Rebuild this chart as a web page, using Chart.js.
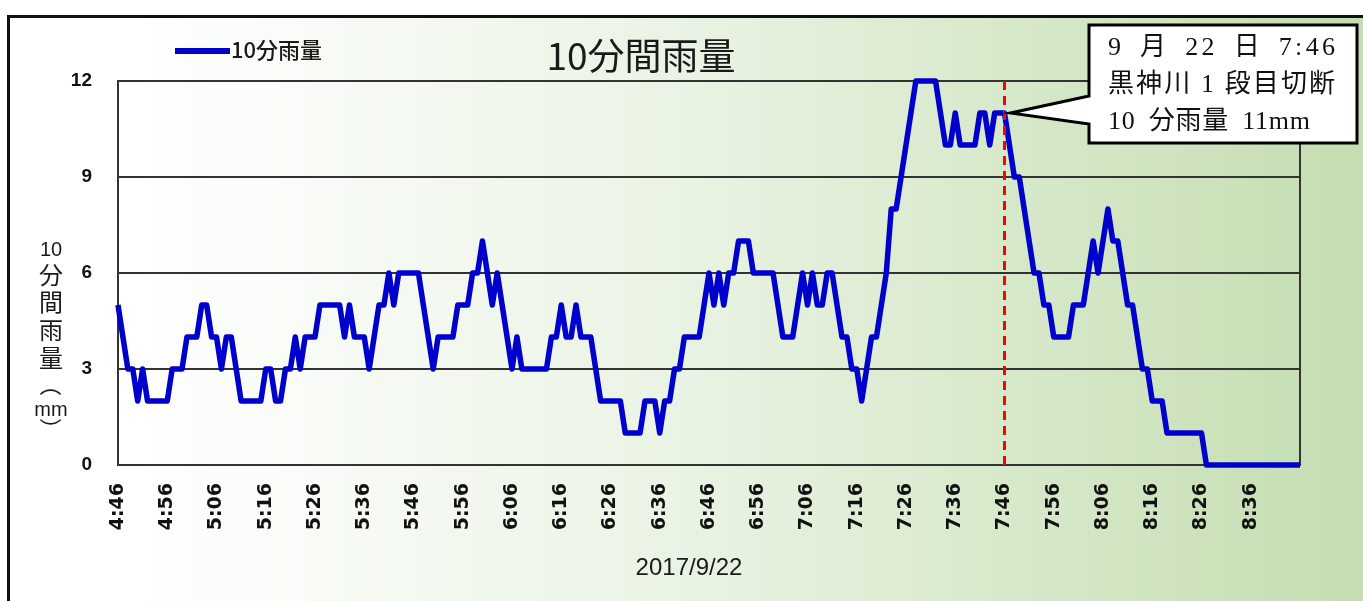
<!DOCTYPE html>
<html>
<head>
<meta charset="utf-8">
<script src="https://cdn.jsdelivr.net/npm/chart.js@4.4.0/dist/chart.umd.min.js"></script>
<style>
html,body{margin:0;padding:0;background:#fff;}
#wrap{width:1363px;height:601px;position:relative;}
canvas{display:block;}
</style>
</head>
<body>
<div id="wrap"><canvas id="c" width="1363" height="601"></canvas></div>
<script>
// ---- data ----
const categories = [
"4:46","4:47","4:48","4:49","4:50","4:51","4:52","4:53","4:54","4:55","4:56","4:57","4:58","4:59",
"5:00","5:01","5:02","5:03","5:04","5:05","5:06","5:07","5:08","5:09","5:10","5:11","5:12","5:13","5:14","5:15","5:16","5:17","5:18","5:19",
"5:20","5:21","5:22","5:23","5:24","5:25","5:26","5:27","5:28","5:29","5:30","5:31","5:32","5:33","5:34","5:35","5:36","5:37","5:38","5:39",
"5:40","5:41","5:42","5:43","5:44","5:45","5:46","5:47","5:48","5:49","5:50","5:51","5:52","5:53","5:54","5:55","5:56","5:57","5:58","5:59",
"6:00","6:01","6:02","6:03","6:04","6:05","6:06","6:07","6:08","6:09","6:10","6:11","6:12","6:13","6:14","6:15","6:16","6:17","6:18","6:19",
"6:20","6:21","6:22","6:23","6:24","6:25","6:26","6:27","6:28","6:29","6:30","6:31","6:32","6:33","6:34","6:35","6:36","6:37","6:38","6:39",
"6:40","6:41","6:42","6:43","6:44","6:45","6:46","6:47","6:48","6:49","6:50","6:51","6:52","6:53","6:54","6:55","6:56","6:57","6:58","6:59",
"7:00","7:01","7:02","7:03","7:04","7:05","7:06","7:07","7:08","7:09","7:10","7:11","7:12","7:13","7:14","7:15","7:16","7:17","7:18","7:19",
"7:20","7:21","7:22","7:23","7:24","7:25","7:26","7:27","7:28","7:29","7:30","7:31","7:32","7:33","7:34","7:35","7:36","7:37","7:38","7:39",
"7:40","7:41","7:42","7:43","7:44","7:45","7:46","7:47","7:48","7:49","7:50","7:51","7:52","7:53","7:54","7:55","7:56","7:57","7:58","7:59",
"8:00","8:01","8:02","8:03","8:04","8:05","8:06","8:07","8:08","8:09","8:10","8:11","8:12","8:13","8:14","8:15","8:16","8:17","8:18","8:19",
"8:20","8:21","8:22","8:23","8:24","8:25","8:26","8:27","8:28","8:29","8:30","8:31","8:32","8:33","8:34","8:35","8:36","8:37","8:38","8:39",
"8:40","8:41","8:42","8:43","8:44","8:45","8:46"
];

const rain10min = [
5,4,3,3,2,3,2,2,2,2,
2,3,3,3,4,4,4,5,5,4,
4,3,4,4,3,2,2,2,2,2,
3,3,2,2,3,3,4,3,4,4,
4,5,5,5,5,5,4,5,4,4,
4,3,4,5,5,6,5,6,6,6,
6,6,5,4,3,4,4,4,4,5,
5,5,6,6,7,6,5,6,5,4,
3,4,3,3,3,3,3,3,4,4,
5,4,4,5,4,4,4,3,2,2,
2,2,2,1,1,1,1,2,2,2,
1,2,2,3,3,4,4,4,4,5,
6,5,6,5,6,6,7,7,7,6,
6,6,6,6,5,4,4,4,5,6,
5,6,5,5,6,6,5,4,4,3,
3,2,3,4,4,5,6,8,8,9,
10,11,12,12,12,12,12,11,10,10,
11,10,10,10,10,11,11,10,11,11,
11,10,9,9,8,7,6,6,5,5,
4,4,4,4,5,5,5,6,7,6,
7,8,7,7,6,5,5,4,3,3,
2,2,2,1,1,1,1,1,1,1,
1,0,0,0,0,0,0,0,0,0,
0,0,0,0,0,0,0,0,0,0,
0
];

const xTickLabels = ["4:46","4:56","5:06","5:16","5:26","5:36","5:46","5:56","6:06","6:16","6:26","6:36","6:46","6:56","7:06","7:16","7:26","7:36","7:46","7:56","8:06","8:16","8:26","8:36"];
const yTicks = [0,3,6,9,12];

const chartTitle = "10分間雨量";
const seriesName = "10分雨量";
const xAxisTitle = "2017/9/22";
const yAxisTitleParts = ["10","分","間","雨","量","（","mm","）"];
const markerLabel = "7:46";
const calloutLines = ["9 月 22 日 7:46", "黒神川 1 段目切断", "10 分雨量 11mm"];

// ---- plugins ----
const narrowFont = "'Liberation Sans Narrow','Liberation Sans',Arial,sans-serif";
const wideFont = "'DejaVu Sans','Liberation Sans',sans-serif";
const cjkFont = "'Noto Sans CJK JP','Noto Sans',sans-serif";

const bgPlugin = {
  id: 'bg',
  beforeDraw(chart) {
    const ctx = chart.ctx;
    ctx.save();
    ctx.fillStyle = '#ffffff';
    ctx.fillRect(0, 0, chart.width, chart.height);
    const g = ctx.createLinearGradient(130, 0, 1363, 0);
    g.addColorStop(0, '#ffffff');
    g.addColorStop(0.45, '#e9f3e3');
    g.addColorStop(1, '#c3ddb0');
    ctx.fillStyle = g;
    ctx.fillRect(8, 16, chart.width, chart.height);
    ctx.strokeStyle = '#111';
    ctx.lineWidth = 3;
    ctx.strokeRect(8.5, 16.5, chart.width + 20, chart.height + 20);
    ctx.restore();
  },
  beforeDatasetsDraw(chart) {
    const ctx = chart.ctx, a = chart.chartArea;
    ctx.save();
    ctx.strokeStyle = '#333';
    ctx.lineWidth = 2;
    ctx.strokeRect(a.left, a.top, a.right - a.left, a.bottom - a.top);
    ctx.restore();
  },
  afterDatasetsDraw(chart) {
    const ctx = chart.ctx, a = chart.chartArea;
    const idx = categories.indexOf(markerLabel);
    const x = chart.scales.x.getPixelForValue(idx);
    ctx.save();
    ctx.strokeStyle = '#ff0000';
    ctx.lineWidth = 3;
    ctx.setLineDash([9, 6]);
    ctx.beginPath();
    ctx.moveTo(x, a.top);
    ctx.lineTo(x, a.bottom);
    ctx.stroke();
    ctx.restore();
  },
  afterDraw(chart) {
    const ctx = chart.ctx;
    ctx.save();
    // title
    ctx.fillStyle = '#1a1a1a';
    ctx.font = "37px " + cjkFont;
    ctx.textAlign = 'center';
    ctx.textBaseline = 'middle';
    ctx.fillText(chartTitle, 641, 56);
    // legend
    ctx.strokeStyle = '#0000cc';
    ctx.lineWidth = 6;
    ctx.beginPath();
    ctx.moveTo(175, 51);
    ctx.lineTo(230, 51);
    ctx.stroke();
    ctx.font = "500 22px " + cjkFont;
    ctx.textAlign = 'left';
    ctx.fillText(seriesName, 231, 50);
    // x axis title
    ctx.font = "24px " + narrowFont;
    ctx.textAlign = 'center';
    ctx.fillText(xAxisTitle, 689, 568);
    // y axis title (vertical, stacked)
    const yPos = [250, 275, 302, 330, 358, 385, 410, 429];
    yAxisTitleParts.forEach((t, i) => {
      const y = yPos[i];
      if (t === '（' || t === '）') {
        ctx.save();
        ctx.translate(51, y);
        ctx.rotate(Math.PI / 2);
        ctx.font = "22px " + cjkFont;
        ctx.fillText(t, 0, 0);
        ctx.restore();
      } else if (/^[0-9a-z]+$/.test(t)) {
        ctx.font = "20px " + narrowFont;
        ctx.fillText(t, 51, y);
      } else {
        ctx.font = "24px " + cjkFont;
        ctx.fillText(t, 51, y);
      }
    });
    // callout
    const idx = categories.indexOf(markerLabel);
    const px = chart.scales.x.getPixelForValue(idx) + 6;
    const py = chart.scales.y.getPixelForValue(rain10min[idx]);
    const bx = 1089, by = 25, bw = 268, bh = 118;
    ctx.beginPath();
    ctx.moveTo(bx, by);
    ctx.lineTo(bx + bw, by);
    ctx.lineTo(bx + bw, by + bh);
    ctx.lineTo(bx, by + bh);
    ctx.lineTo(bx, 124);
    ctx.lineTo(px, py);
    ctx.lineTo(bx, 96);
    ctx.closePath();
    ctx.fillStyle = '#ffffff';
    ctx.fill();
    ctx.strokeStyle = '#000';
    ctx.lineWidth = 3;
    ctx.lineJoin = 'miter';
    ctx.stroke();
    ctx.fillStyle = '#111';
    ctx.textAlign = 'left';
    ctx.textBaseline = 'middle';
    ctx.font = "26px 'Liberation Serif','Noto Sans CJK JP',serif";
    const targets = [227, 227, 202];
    const wordSp = [6, 0, 6];
    calloutLines.forEach((line, i) => {
      ctx.letterSpacing = '0px';
      ctx.wordSpacing = wordSp[i] + 'px';
      const w = ctx.measureText(line).width;
      const n = [...line].length;
      let sp = (targets[i] - w) / (n - 1);
      if (!(sp > 0)) sp = 0;
      if (sp > 8) sp = 8;
      ctx.letterSpacing = sp.toFixed(2) + 'px';
      ctx.fillText(line, 1108, 48 + i * 37);
    });
    ctx.letterSpacing = '0px';
    ctx.wordSpacing = '0px';
    ctx.restore();
  }
};

const ctx = document.getElementById('c').getContext('2d');
new Chart(ctx, {
  type: 'line',
  data: {
    labels: categories,
    datasets: [{
      label: seriesName,
      data: rain10min,
      borderColor: '#0000cc',
      backgroundColor: '#0000cc',
      borderWidth: 5.5,
      pointRadius: 0,
      tension: 0,
      fill: false,
      clip: 8,
      borderJoinStyle: 'round'
    }]
  },
  options: {
    responsive: false,
    animation: false,
    devicePixelRatio: 1,
    layout: { padding: { left: 0, right: 63, top: 81, bottom: 0 } },
    plugins: {
      legend: { display: false },
      title: { display: false },
      tooltip: { enabled: false }
    },
    scales: {
      x: {
        type: 'category',
        offset: false,
        grid: { display: false, drawTicks: false },
        border: { display: true, color: '#333', width: 2 },
        ticks: {
          autoSkip: false,
          maxRotation: 90,
          minRotation: 90,
          padding: 18,
          color: '#111',
          font: { family: wideFont, size: 19, weight: 'bold' },
          callback: function (v, i) {
            const l = categories[i];
            return xTickLabels.includes(l) ? l : '';
          }
        },
        afterFit: (s) => { s.height = 136; }
      },
      y: {
        min: 0,
        max: 12,
        afterBuildTicks: (s) => { s.ticks = yTicks.map(v => ({ value: v })); },
        grid: { color: '#333', lineWidth: 2, drawTicks: false },
        border: { display: true, color: '#333', width: 2 },
        ticks: {
          padding: 26,
          color: '#111',
          font: { family: narrowFont, size: 19, weight: 'bold' }
        },
        afterFit: (s) => { s.width = 118; }
      }
    }
  },
  plugins: [bgPlugin]
});
</script>
</body>
</html>
